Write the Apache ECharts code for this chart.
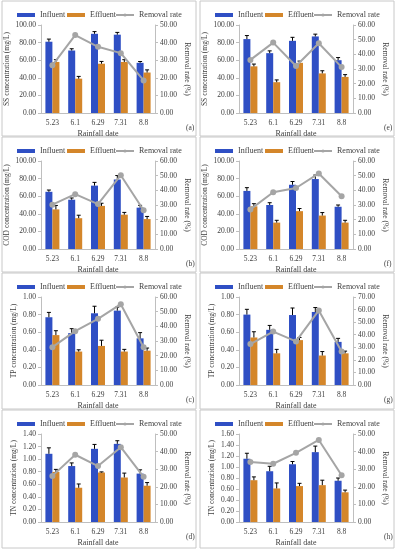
<!DOCTYPE html>
<html><head><meta charset="utf-8">
<script src="https://cdn.jsdelivr.net/npm/echarts@6/dist/echarts.min.js"></script>
<style>html,body{margin:0;padding:0;background:#fff}#c{width:396px;height:550px}</style>
</head><body><div id="c"></div>
<script>
const dates = ['5.23','6.1','6.29','7.31','8.8'];
const panelTags = ['(a)','(e)','(b)','(f)','(c)','(g)','(d)','(h)'];
const yNames = ['SS concentration (mg/L)','SS concentration (mg/L)','COD concentration (mg/L)','COD concentration (mg/L)','TP concentration (mg/L)','TP concentration (mg/L)','TN concentration (mg/L)','TN concentration (mg/L)'];
const seriesNames = ['Influent','Effluent','Removal rate'];
const leftMax = [100,100,100,100,1,1,1.4,1.6];
const leftStep = [20,20,20,20,0.2,0.2,0.2,0.2];
const rightMax = [50,60,60,60,60,70,50,50];
const rightStep = [10,10,10,10,10,10,10,10];

// (a) SS
const influentA = [81,71,90,89,57];
const effluentA = [58,39,56,58,46];
const removalA = [27.1,44.3,37.6,34.0,18.5];
const influentErrA = [3,2,2.5,2.6,1.5];
const effluentErrA = [2.6,2.6,2.6,2.6,3];
// (e) SS
const influentE = [84,68,82,87,60];
const effluentE = [53,35,57,45,41];
const removalE = [36.2,48.0,32.0,47.6,31.3];
const influentErrE = [4,2.6,4,2.6,3];
const effluentErrE = [2.6,2.6,2,3,2.6];
// (b) COD
const influentB = [65,56,72,79,47];
const effluentB = [45,35,49,39,34];
const removalB = [30.2,37.4,30.6,50.3,26.4];
const influentErrB = [2,2,3.7,4.5,2.6];
const effluentErrB = [4.5,3.4,3,2.6,3];
// (f) COD
const influentF = [66,50,73,79.5,48];
const effluentF = [48.5,30,43,38,30];
const removalF = [27.0,38.7,41.6,51.5,36.0];
const influentErrF = [3.7,2.6,3.7,4.5,2];
const effluentErrF = [3,2.6,3,3.4,2.6];
// (c) TP
const influentC = [0.77,0.59,0.815,0.845,0.53];
const effluentC = [0.567,0.38,0.444,0.38,0.39];
const removalC = [25.8,36.7,45.1,55.1,25.8];
const influentErrC = [0.055,0.05,0.08,0.04,0.065];
const effluentErrC = [0.05,0.02,0.065,0.025,0.03];
// (g) TP
const influentG = [0.80,0.627,0.795,0.83,0.49];
const effluentG = [0.54,0.36,0.51,0.335,0.36];
const removalG = [32.6,42.5,34.7,59.3,26.6];
const influentErrG = [0.06,0.05,0.08,0.05,0.04];
const effluentErrG = [0.065,0.045,0.03,0.045,0.025];
// (d) TN
const influentD = [1.085,0.89,1.164,1.243,0.77];
const effluentD = [0.797,0.545,0.787,0.708,0.577];
const removalD = [26.2,38.2,31.8,42.5,25.7];
const influentErrD = [0.095,0.05,0.07,0.05,0.06];
const effluentErrD = [0.04,0.06,0.01,0.07,0.05];
// (h) TN
const influentH = [1.15,0.923,1.05,1.27,0.75];
const effluentH = [0.76,0.61,0.653,0.67,0.54];
const removalH = [34.1,33.1,39.3,46.6,26.6];
const influentErrH = [0.10,0.09,0.05,0.11,0.05];
const effluentErrH = [0.06,0.10,0.05,0.09,0.04];

const influentAll = [influentA,influentE,influentB,influentF,influentC,influentG,influentD,influentH];
const effluentAll = [effluentA,effluentE,effluentB,effluentF,effluentC,effluentG,effluentD,effluentH];
const removalAll = [removalA,removalE,removalB,removalF,removalC,removalG,removalD,removalH];
const influentErrAll = [influentErrA,influentErrE,influentErrB,influentErrF,influentErrC,influentErrG,influentErrD,influentErrH];
const effluentErrAll = [effluentErrA,effluentErrE,effluentErrB,effluentErrF,effluentErrC,effluentErrG,effluentErrD,effluentErrH];

const BLUE = '#2F4FC4', ORANGE = '#D4862A', GRAY = '#A5A5A5';
const TXT = '#404040', AX = '#BFBFBF';
const FONT = 'Liberation Serif';
const FS = 7.5;
const BW = 7;
const panelLeft = [2, 200];
const panelTop = [1, 137, 273, 410];
const panelW = 194, panelH = [135,135,136,138];
const legendOffsets = [15, 65, 113];

const grids = [], xAxes = [], yAxes = [], series = [], legends = [], graphics = [];

function errRender(values, errs, side) {
  return function (params, api) {
    const i = params.dataIndex;
    const top = api.coord([i, values[i]]);
    const hi = api.coord([i, values[i] + errs[i]]);
    const x = top[0] + side * BW / 2;
    const s = {stroke: '#000', lineWidth: 1};
    return {type: 'group', children: [
      {type: 'line', shape: {x1: x, y1: top[1], x2: x, y2: hi[1]}, style: s},
      {type: 'line', shape: {x1: x - 2, y1: hi[1], x2: x + 2, y2: hi[1]}, style: s}
    ]};
  };
}

for (let p = 0; p < 8; p++) {
  const row = Math.floor(p / 2), col = p % 2;
  const L = panelLeft[col], T = panelTop[row];
  graphics.push({type: 'rect', shape: {x: L, y: T, width: panelW, height: panelH[row]},
    style: {fill: 'none', stroke: '#C8C8C8', lineWidth: 1}, z: 0, silent: true});
  graphics.push({type: 'text', left: L + 184, top: T + 123,
    style: {text: panelTags[p], font: FS + 'px "' + FONT + '"', fill: TXT}});
  grids.push({left: L + 39, top: T + 24, width: 114, height: 88});
  for (let k = 0; k < 3; k++) {
    legends.push({left: L + legendOffsets[k], top: T + 10, padding: 0, itemWidth: 18, itemHeight: 4, itemGap: 2,
      textStyle: {fontFamily: FONT, fontSize: 8, color: TXT},
      data: [k < 2 ? {name: seriesNames[k], icon: 'rect'} : {name: seriesNames[k]}]});
  }
  xAxes.push({type: 'category', gridIndex: p, data: dates,
    name: 'Rainfall date', nameLocation: 'middle', nameGap: 17,
    nameTextStyle: {fontFamily: FONT, fontSize: 8, color: TXT},
    axisLine: {lineStyle: {color: AX}}, axisTick: {show: false},
    axisLabel: {fontFamily: FONT, fontSize: FS, color: TXT, margin: 6, interval: 0}});
  yAxes.push({type: 'value', gridIndex: p, min: 0, max: leftMax[p], interval: leftStep[p],
    name: yNames[p], nameLocation: 'middle', nameGap: 23,
    nameTextStyle: {fontFamily: FONT, fontSize: FS, color: TXT},
    axisLine: {show: true, lineStyle: {color: AX}}, axisTick: {show: true, length: 3, lineStyle: {color: AX}},
    splitLine: {show: false},
    axisLabel: {fontFamily: FONT, fontSize: FS, color: TXT, margin: 5, formatter: v => v.toFixed(2)}});
  yAxes.push({type: 'value', gridIndex: p, position: 'right', min: 0, max: rightMax[p], interval: rightStep[p],
    name: 'Removal rate (%)', nameLocation: 'middle', nameGap: 28, nameRotate: -90,
    nameTextStyle: {fontFamily: FONT, fontSize: FS, color: TXT},
    axisLine: {show: true, lineStyle: {color: AX}}, axisTick: {show: true, length: 3, lineStyle: {color: AX}},
    splitLine: {show: false},
    axisLabel: {fontFamily: FONT, fontSize: FS, color: TXT, margin: 5, formatter: v => v.toFixed(2)}});
  series.push({type: 'bar', name: 'Influent', xAxisIndex: p, yAxisIndex: 2 * p, data: influentAll[p],
    barWidth: BW, barGap: '0%', itemStyle: {color: BLUE}});
  series.push({type: 'bar', name: 'Effluent', xAxisIndex: p, yAxisIndex: 2 * p, data: effluentAll[p],
    barWidth: BW, barGap: '0%', itemStyle: {color: ORANGE}});
  series.push({type: 'custom', name: 'Influent', xAxisIndex: p, yAxisIndex: 2 * p, data: influentAll[p],
    renderItem: errRender(influentAll[p], influentErrAll[p], -1), z: 3, silent: true});
  series.push({type: 'custom', name: 'Effluent', xAxisIndex: p, yAxisIndex: 2 * p, data: effluentAll[p],
    renderItem: errRender(effluentAll[p], effluentErrAll[p], 1), z: 3, silent: true});
  series.push({type: 'line', name: 'Removal rate', xAxisIndex: p, yAxisIndex: 2 * p + 1, data: removalAll[p],
    symbol: 'circle', symbolSize: 6, lineStyle: {color: GRAY, width: 2}, itemStyle: {color: GRAY}, z: 4});
}

const chart = echarts.init(document.getElementById('c'));
chart.setOption({
  animation: false,
  backgroundColor: '#fff',
  grid: grids, xAxis: xAxes, yAxis: yAxes, legend: legends, series: series, graphic: graphics
});
</script></body></html>
